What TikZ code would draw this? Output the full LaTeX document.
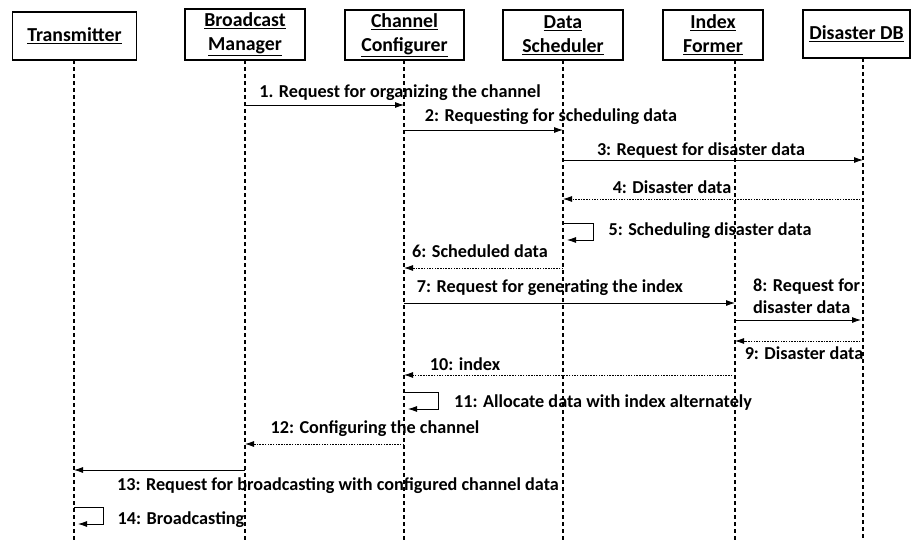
\documentclass[tikz,border=0pt]{standalone}
\usepackage{fontspec}
\setmainfont{Carlito}
\usetikzlibrary{arrows.meta}
\begin{document}
\begin{tikzpicture}[x=1pt,y=-1pt,
  actor/.style={draw,line width=1.6pt,inner sep=0pt,align=center,
    font=\fontsize{19.8}{24}\selectfont\bfseries},
  lifeline/.style={line width=2pt,dash pattern=on 4pt off 3pt},
  msg/.style={line width=0.8pt,-{Latex[length=9pt,width=6pt]}},
  ret/.style={line width=0.8pt,dash pattern=on 1.5pt off 1.2pt,-{Latex[length=9pt,width=6pt]}},
  lbl/.style={font=\fontsize{18.2}{22}\selectfont\bfseries,inner sep=0pt}]
\useasboundingbox (0,0) rectangle (911,541);
% actors
\node[actor,minimum width=124pt,minimum height=48pt] (tx) at (74.5,36) {\underline{Transmitter}};
\node[actor,minimum width=120pt,minimum height=51pt] (bm) at (245,34.5) {\underline{Broadcast}\\\underline{Manager}};
\node[actor,minimum width=119pt,minimum height=50pt] (cc) at (404.5,35) {\underline{Channel}\\\underline{Configurer}};
\node[actor,minimum width=120pt,minimum height=50pt] (ds) at (563,35) {\underline{Data}\\\underline{Scheduler}};
\node[actor,minimum width=100pt,minimum height=50pt] (ix) at (713,35) {\underline{Index}\\\underline{Former}};
\node[actor,minimum width=107pt,minimum height=48pt] (db) at (856.5,34) {\underline{Disaster DB}};
% lifeline ends
\coordinate (txT) at (74,60);   \coordinate (txB) at (74,541);
\coordinate (bmT) at (245,60);  \coordinate (bmB) at (245,541);
\coordinate (ccT) at (404,60);  \coordinate (ccB) at (404,541);
\coordinate (dsT) at (563,60);  \coordinate (dsB) at (563,541);
\coordinate (ixT) at (735,60);  \coordinate (ixB) at (735,541);
\coordinate (dbT) at (863,58);  \coordinate (dbB) at (863,541);
\foreach \a in {tx,bm,cc,ds,ix,db} \draw[lifeline] (\a T) -- (\a B);
% message points
\coordinate (m1a) at (245,105); \coordinate (m1b) at (404,105);
\coordinate (m2a) at (404,130); \coordinate (m2b) at (563,130);
\coordinate (m3a) at (563,160); \coordinate (m3b) at (863,160);
\coordinate (m4a) at (863,199); \coordinate (m4b) at (563,199);
\coordinate (m5a) at (563,223); \coordinate (m5b) at (567,240);
\coordinate (m6a) at (563,268); \coordinate (m6b) at (404,268);
\coordinate (m7a) at (404,303); \coordinate (m7b) at (735,303);
\coordinate (m8a) at (735,320); \coordinate (m8b) at (861,320);
\coordinate (m9a) at (863,341); \coordinate (m9b) at (735,341);
\coordinate (m10a) at (735,375); \coordinate (m10b) at (404,375);
\coordinate (m11a) at (404,392); \coordinate (m11b) at (408,409);
\coordinate (m12a) at (404,444); \coordinate (m12b) at (245,444);
\coordinate (m13a) at (245,470); \coordinate (m13b) at (74,470);
\coordinate (m14a) at (74,507); \coordinate (m14b) at (78,524);
% messages
\draw[msg] (m1a) -- (m1b);
\draw[msg] (m2a) -- (m2b);
\draw[msg] (m3a) -- (m3b);
\draw[ret] (m4a) -- (m4b);
\draw[msg] (m5a) -| (593,240) -- (m5b);
\draw[ret] (m6a) -- (m6b);
\draw[msg] (m7a) -- (m7b);
\draw[msg] (m8a) -- (m8b);
\draw[ret] (m9a) -- (m9b);
\draw[ret] (m10a) -- (m10b);
\draw[msg] (m11a) -| (438,409) -- (m11b);
\draw[ret] (m12a) -- (m12b);
\draw[msg] (m13a) -- (m13b);
\draw[msg] (m14a) -| (103,524) -- (m14b);
% labels
\node[lbl] (l1) at (400,93) {1. Request for organizing the channel};
\node[lbl] (l2) at (551,117) {2: Requesting for scheduling data};
\node[lbl] (l3) at (701,151) {3: Request for disaster data};
\node[lbl] (l4) at (672,187) {4: Disaster data};
\node[lbl] (l5) at (710,231) {5: Scheduling disaster data};
\node[lbl] (l6) at (480,251) {6: Scheduled data};
\node[lbl] (l7) at (550,288) {7: Request for generating the index};
\node[lbl,align=left,anchor=west] (l8) at (753,296) {8: Request for\\disaster data};
\node[lbl] (l9) at (804,353) {9: Disaster data};
\node[lbl] (l10) at (465,364) {10: index};
\node[lbl] (l11) at (603,403) {11: Allocate data with index alternately};
\node[lbl] (l12) at (375,429) {12: Configuring the channel};
\node[lbl] (l13) at (338,486) {13: Request for broadcasting with configured channel data};
\node[lbl] (l14) at (181,520) {14: Broadcasting};
\end{tikzpicture}
\end{document}
